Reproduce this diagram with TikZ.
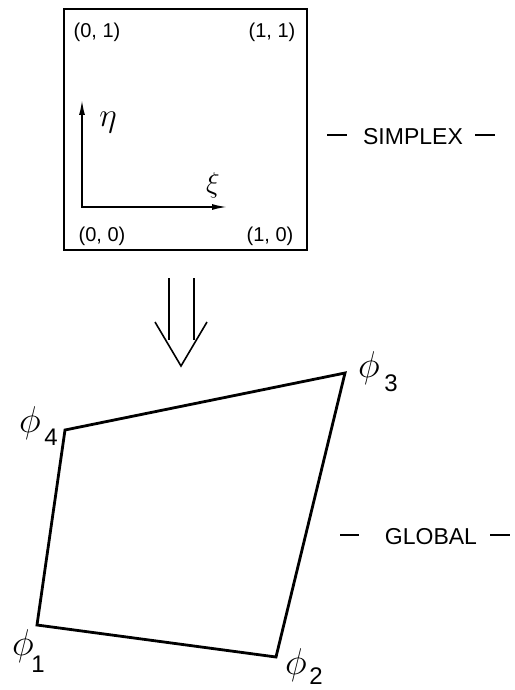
\documentclass[tikz,border=0pt]{standalone}
\usepackage{graphicx}
\usepackage{fontspec}
\setmainfont{Liberation Sans}
\usetikzlibrary{arrows.meta}
\begin{document}
\begin{tikzpicture}[x=1pt,y=-1pt]
\useasboundingbox[fill=white] (0,0) rectangle (514,690);
\tikzset{
  frame/.style={draw, line width=2.4pt, inner sep=0, minimum width=243pt, minimum height=241pt},
  axis/.style={line width=1.6pt, {Latex[length=15pt,width=6pt]}-{Latex[length=15pt,width=6pt]}},
  corner/.style={font=\fontsize{20}{22}\selectfont, inner sep=0},
  greek/.style={inner sep=0},
  phil/.style={inner sep=0},
  subl/.style={font=\fontsize{24}{26}\selectfont, inner sep=0},
  quadedge/.style={line width=2.8pt, line join=miter},
  maparrow/.style={line width=1.6pt},
  tag/.style={font=\fontsize{23}{25}\selectfont, inner sep=0},
  tagdash/.style={line width=1.5pt},
}
\newcommand{\bigphi}{\scalebox{1.5}{\fontsize{24}{26}\selectfont$\phi$}}
% simplex square
\node[frame, anchor=north west] (box) at (63,8) {};
\node[corner] (c01) at (97,32) {(0, 1)};
\node[corner] (c11) at (272,32) {(1, 1)};
\node[corner] (c00) at (102,236) {(0, 0)};
\node[corner] (c10) at (270,236) {(1, 0)};
\coordinate (o) at (82,207);
\coordinate (etatip) at (82,100);
\coordinate (xitip) at (227,207);
\draw[axis] (etatip) -- (o) -- (xitip);
\node[greek] (eta) at (108,123) {\scalebox{1.35}{\fontsize{24}{26}\selectfont$\eta$}};
\node[greek] (xi) at (213,185) {\scalebox{1.15}{\fontsize{24}{26}\selectfont$\xi$}};
\node[tag] (simplex) at (413,137) {SIMPLEX};
\draw[tagdash] (327,135) -- (347,135);
\draw[tagdash] (475,135) -- (495,135);
% mapping arrow
\draw[maparrow] (169,278) -- (169,340);
\draw[maparrow] (194,278) -- (194,340);
\draw[maparrow] (155,322) -- (181,366) -- (207,322);
% global quadrilateral
\coordinate (p1) at (37,625);
\coordinate (p2) at (276,657);
\coordinate (p3) at (345,373);
\coordinate (p4) at (65,430);
\draw[quadedge] (p1) -- (p2) -- (p3) -- (p4) -- cycle;
\node[phil] (f1) at (23,646) {\bigphi};
\node[subl] (f1s) at (38,664) {1};
\node[phil] (f2) at (296,665) {\bigphi};
\node[subl] (f2s) at (316,676) {2};
\node[phil] (f3) at (369,368) {\bigphi};
\node[subl] (f3s) at (391,383) {3};
\node[phil] (f4) at (30,423) {\bigphi};
\node[subl] (f4s) at (51,437) {4};
\node[tag] (global) at (431,537) {GLOBAL};
\draw[tagdash] (340,535) -- (359,535);
\draw[tagdash] (490,535) -- (510,535);
\end{tikzpicture}
\end{document}
